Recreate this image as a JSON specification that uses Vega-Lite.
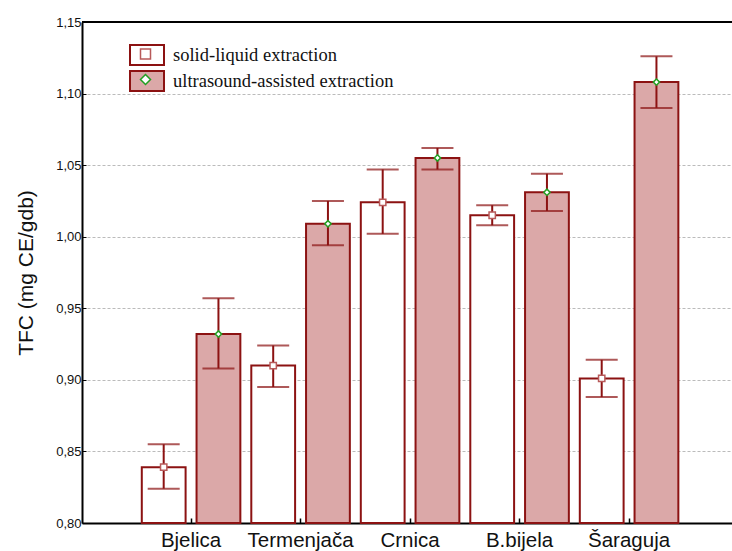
{
  "$schema": "https://vega.github.io/schema/vega-lite/v6.json",
  "width": 650,
  "height": 501,
  "autosize": {"type": "none"},
  "padding": {"left": 82, "top": 22, "right": 0, "bottom": 28},
  "background": "white",
  "config": {
    "font": "Liberation Sans",
    "view": {"stroke": null}
  },
  "data": {
    "values": [
      {"cultivar": "Bjelica", "method": "solid-liquid extraction", "mean": 0.839, "lo": 0.824, "hi": 0.855},
      {"cultivar": "Bjelica", "method": "ultrasound-assisted extraction", "mean": 0.932, "lo": 0.908, "hi": 0.957},
      {"cultivar": "Termenjača", "method": "solid-liquid extraction", "mean": 0.910, "lo": 0.895, "hi": 0.924},
      {"cultivar": "Termenjača", "method": "ultrasound-assisted extraction", "mean": 1.009, "lo": 0.994, "hi": 1.025},
      {"cultivar": "Crnica", "method": "solid-liquid extraction", "mean": 1.024, "lo": 1.002, "hi": 1.047},
      {"cultivar": "Crnica", "method": "ultrasound-assisted extraction", "mean": 1.055, "lo": 1.047, "hi": 1.062},
      {"cultivar": "B.bijela", "method": "solid-liquid extraction", "mean": 1.015, "lo": 1.008, "hi": 1.022},
      {"cultivar": "B.bijela", "method": "ultrasound-assisted extraction", "mean": 1.031, "lo": 1.018, "hi": 1.044},
      {"cultivar": "Šaraguja", "method": "solid-liquid extraction", "mean": 0.901, "lo": 0.888, "hi": 0.914},
      {"cultivar": "Šaraguja", "method": "ultrasound-assisted extraction", "mean": 1.108, "lo": 1.090, "hi": 1.126}
    ]
  },
  "encoding": {
    "x": {
      "field": "cultivar",
      "type": "nominal",
      "sort": ["Bjelica", "Termenjača", "Crnica", "B.bijela", "Šaraguja"],
      "scale": {"paddingInner": 0, "paddingOuter": 0.468, "align": 0.53},
      "axis": {
        "title": null,
        "labelAngle": 0,
        "labelFont": "Liberation Sans",
        "labelFontSize": 20.5,
        "labelColor": "#111",
        "labelPadding": 12,
        "labelLimit": 300,
        "tickSize": -5,
        "tickColor": "#000",
        "tickWidth": 1.5,
        "domainColor": "#000",
        "domainWidth": 2,
        "grid": false
      }
    },
    "xOffset": {
      "field": "method",
      "type": "nominal",
      "sort": ["solid-liquid extraction", "ultrasound-assisted extraction"],
      "scale": {"paddingInner": 0.2, "paddingOuter": 0.1}
    }
  },
  "layer": [
    {
      "mark": {"type": "rule", "color": "#000", "strokeWidth": 2},
      "encoding": {"y": {"datum": 1.15}, "x": null, "xOffset": null}
    },
    {
      "mark": {"type": "bar", "stroke": "#8c1212", "strokeWidth": 2},
      "encoding": {
        "y": {
          "field": "mean",
          "type": "quantitative",
          "scale": {"domain": [0.8, 1.15], "zero": false, "nice": false},
          "axis": {
            "title": "TFC (mg CE/gdb)",
            "titleFont": "Liberation Sans",
            "titleFontSize": 21,
            "titleFontWeight": "normal",
            "titleColor": "#111",
            "titlePadding": 19,
            "values": [0.8, 0.85, 0.9, 0.95, 1.0, 1.05, 1.1, 1.15],
            "labelExpr": "replace(format(datum.value, '.2f'), '.', ',')",
            "labelFont": "Liberation Sans",
            "labelFontSize": 13,
            "labelColor": "#111",
            "labelPadding": 5,
            "tickSize": -4,
            "tickColor": "#000",
            "domainColor": "#000",
            "domainWidth": 2,
            "grid": true,
            "gridColor": "#bbbbbb",
            "gridDash": [3, 2],
            "gridWidth": 1
          }
        },
        "y2": {"datum": 0.8},
        "fill": {
          "field": "method",
          "type": "nominal",
          "scale": {
            "domain": ["solid-liquid extraction", "ultrasound-assisted extraction"],
            "range": ["#ffffff", "#dba8a8"]
          },
          "legend": {
            "title": null,
            "orient": "none",
            "legendX": 54,
            "legendY": 22,
            "padding": 0,
            "symbolType": "M-1.7,-1H1.7V1H-1.7Z",
            "symbolSize": 400,
            "symbolStrokeColor": "#8c1212",
            "symbolStrokeWidth": 2,
            "symbolOpacity": 1,
            "labelFont": "Liberation Serif",
            "labelFontSize": 18.5,
            "labelColor": "#111",
            "labelOffset": 15,
            "labelLimit": 400,
            "rowPadding": -2
          }
        }
      }
    },
    {
      "mark": {"type": "rule", "color": "#8c1212", "strokeWidth": 2},
      "encoding": {
        "y": {"field": "lo", "type": "quantitative"},
        "y2": {"field": "hi"}
      }
    },
    {
      "mark": {"type": "tick", "color": "#8c1212", "thickness": 2, "size": 32},
      "encoding": {"y": {"field": "lo", "type": "quantitative"}}
    },
    {
      "mark": {"type": "tick", "color": "#8c1212", "thickness": 2, "size": 32},
      "encoding": {"y": {"field": "hi", "type": "quantitative"}}
    },
    {
      "mark": {"type": "point", "filled": true, "fill": "white", "strokeWidth": 1.5, "opacity": 1},
      "encoding": {
        "y": {"field": "mean", "type": "quantitative"},
        "shape": {
          "field": "method",
          "type": "nominal",
          "scale": {"range": ["square", "diamond"]},
          "legend": {
            "title": null,
            "orient": "none",
            "legendX": 57.5,
            "legendY": 26,
            "padding": 0,
            "labelExpr": "''",
            "labelFontSize": 1,
            "rowPadding": 9.5,
            "symbolFillColor": "white",
            "symbolStrokeWidth": 1.5
          }
        },
        "stroke": {
          "field": "method",
          "type": "nominal",
          "scale": {"range": ["#b85a5a", "#22a022"]}
        },
        "size": {"value": 40}
      }
    }
  ]
}
